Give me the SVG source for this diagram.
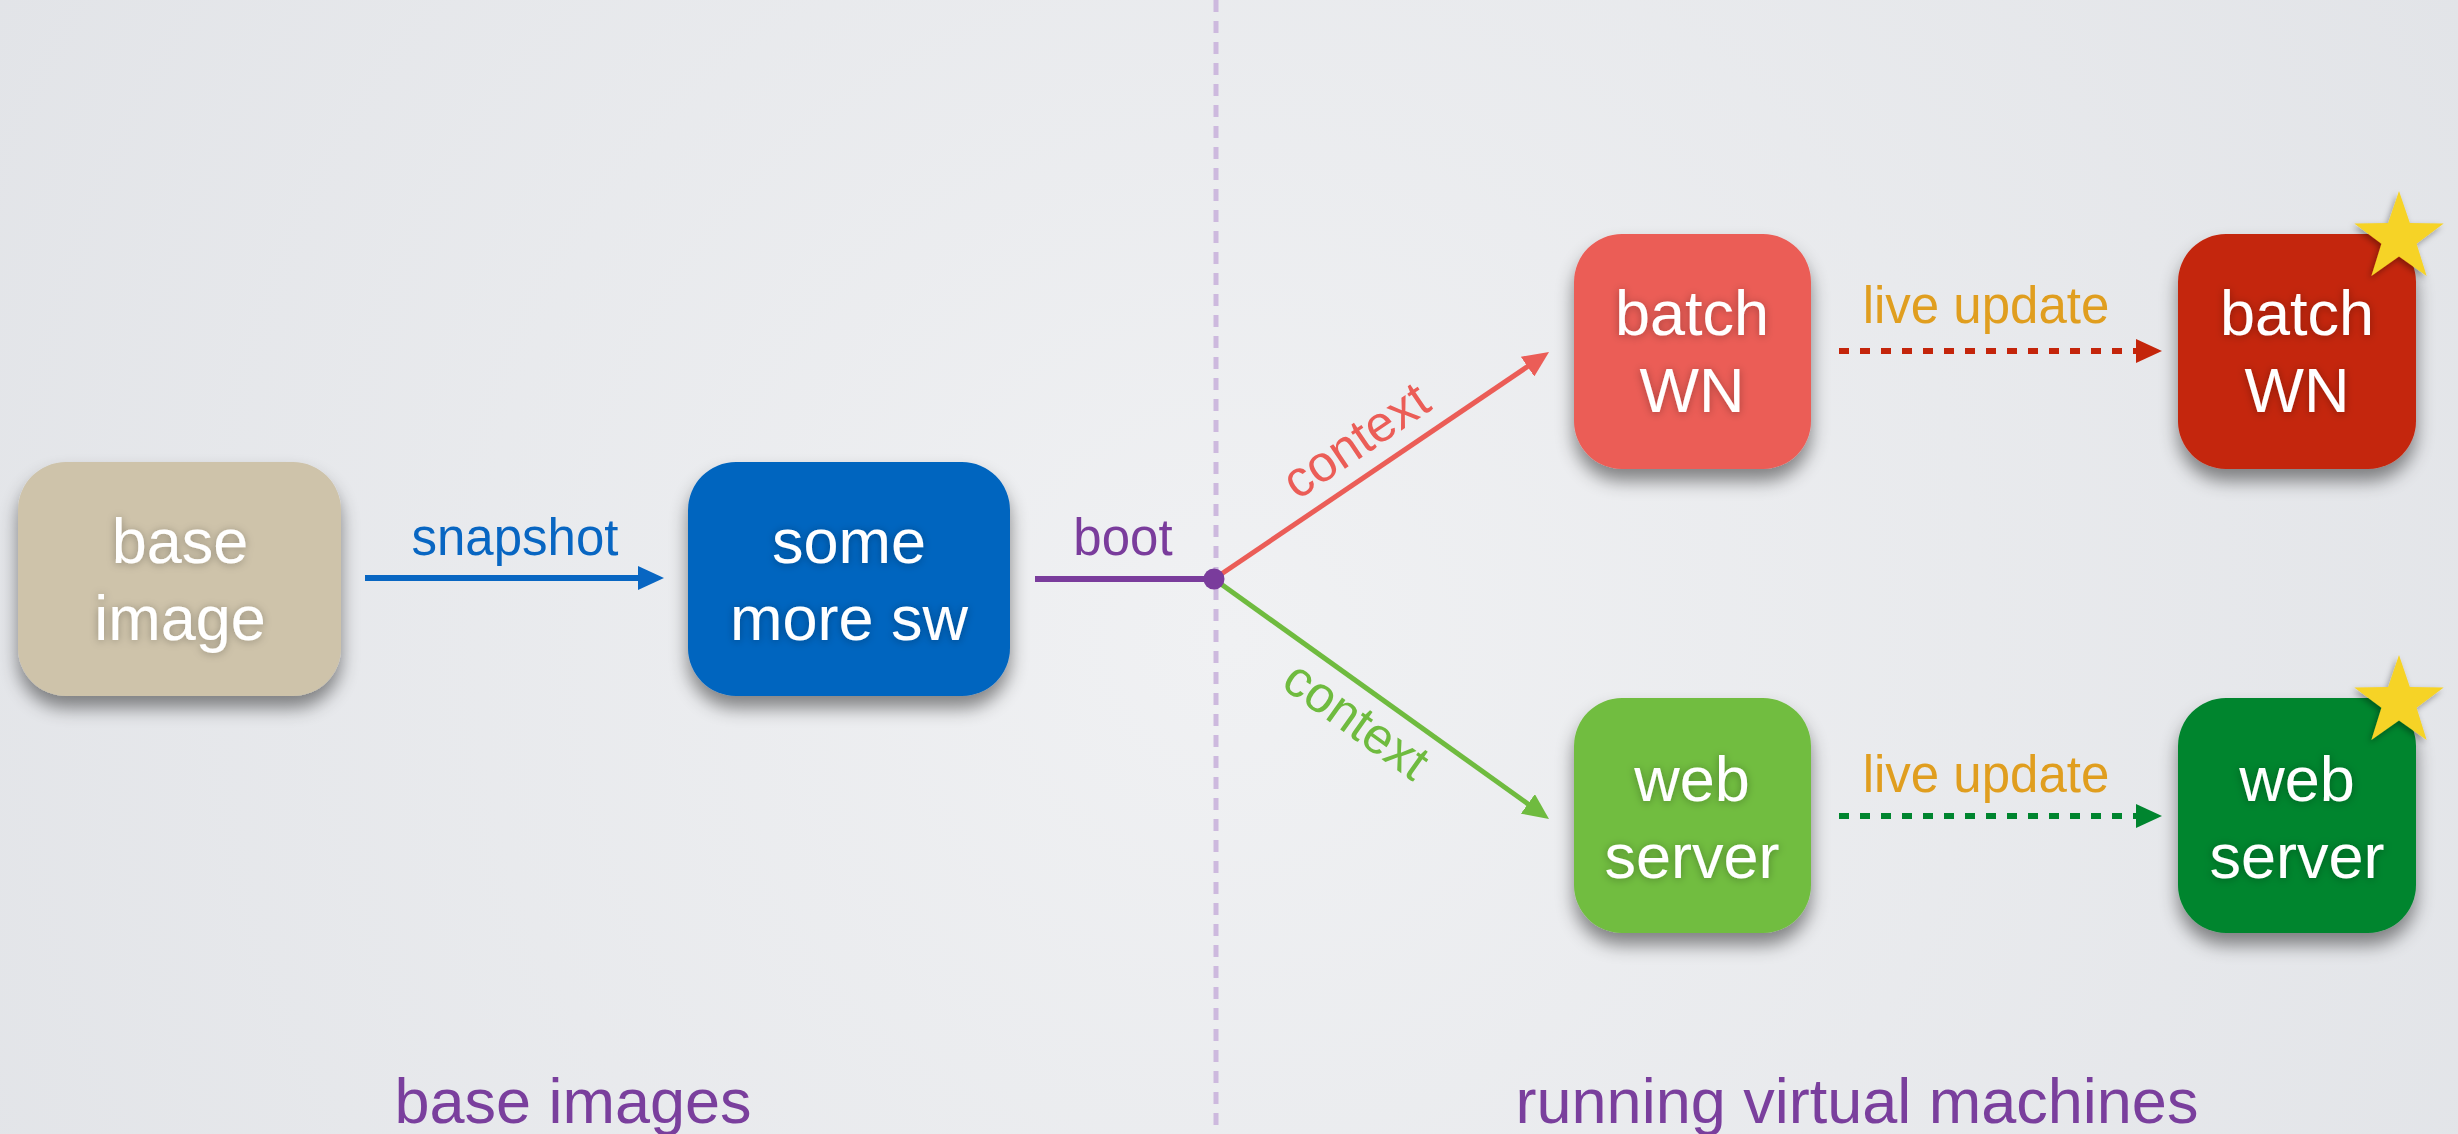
<svg xmlns="http://www.w3.org/2000/svg" width="2458" height="1134" viewBox="0 0 2458 1134">
  <defs>
    <radialGradient id="bg" cx="1230" cy="640" r="1500" gradientUnits="userSpaceOnUse">
      <stop offset="0" stop-color="#f0f1f3"/>
      <stop offset="1" stop-color="#e1e3e7"/>
    </radialGradient>
    <filter id="boxShadow" x="-20%" y="-20%" width="140%" height="150%">
      <feDropShadow dx="0" dy="12" stdDeviation="9" flood-color="#000" flood-opacity="0.45"/>
    </filter>
    <filter id="textShadow" x="-20%" y="-30%" width="140%" height="160%">
      <feDropShadow dx="0" dy="1" stdDeviation="4" flood-color="#000" flood-opacity="0.3"/>
    </filter>
    <filter id="starShadow" x="-30%" y="-30%" width="160%" height="160%">
      <feDropShadow dx="-2" dy="3" stdDeviation="3" flood-color="#000" flood-opacity="0.35"/>
    </filter>
    <marker id="arrowBlue" markerUnits="userSpaceOnUse" markerWidth="26" markerHeight="24" viewBox="0 0 26 24" refX="10" refY="12" orient="auto">
      <path d="M0,0 L26,12 L0,24 z" fill="#0866c2"/>
    </marker>
    <marker id="arrowRed" markerUnits="userSpaceOnUse" markerWidth="26" markerHeight="24" viewBox="0 0 26 24" refX="10" refY="12" orient="auto">
      <path d="M0,0 L26,12 L0,24 z" fill="#eb5d57"/>
    </marker>
    <marker id="arrowGreen" markerUnits="userSpaceOnUse" markerWidth="26" markerHeight="24" viewBox="0 0 26 24" refX="10" refY="12" orient="auto">
      <path d="M0,0 L26,12 L0,24 z" fill="#6fbb3f"/>
    </marker>
    <marker id="arrowDarkRed" markerUnits="userSpaceOnUse" markerWidth="26" markerHeight="24" viewBox="0 0 26 24" refX="10" refY="12" orient="auto">
      <path d="M0,0 L26,12 L0,24 z" fill="#c4250b"/>
    </marker>
    <marker id="arrowDarkGreen" markerUnits="userSpaceOnUse" markerWidth="26" markerHeight="24" viewBox="0 0 26 24" refX="10" refY="12" orient="auto">
      <path d="M0,0 L26,12 L0,24 z" fill="#00852f"/>
    </marker>
    <polygon id="star" points="0,-47 10.87,-14.97 44.7,-14.52 17.59,5.72 27.63,38.02 0,18.5 -27.63,38.02 -17.59,5.72 -44.7,-14.52 -10.87,-14.97" fill="#f6d327"/>
    <style>
      text { font-family: "Liberation Sans", Arial, Helvetica, sans-serif; }
      .box { filter: url(#boxShadow); }
      .node-label { fill: #ffffff; font-size: 63px; text-anchor: middle; filter: url(#textShadow); }
      .edge-label { font-size: 51px; text-anchor: middle; }
      .section { fill: #7a3f9d; font-size: 63px; text-anchor: middle; }
      .live { fill: #e09e1f; }
    </style>
  </defs>

  <!-- backdrop -->
  <rect x="0" y="0" width="2458" height="1134" fill="url(#bg)"/>

  <!-- divider between the two halves -->
  <line id="divider" x1="1216" y1="0" x2="1216" y2="1134" stroke="#cdb9de" stroke-width="5" stroke-dasharray="12 9"/>

  <!-- nodes -->
  <g id="node-base-image">
    <rect class="box" x="18" y="462" width="323" height="234" rx="48" fill="#cec3aa"/>
    <text class="node-label" x="180" y="563">base</text>
    <text class="node-label" x="180" y="640">image</text>
  </g>
  <g id="node-some-more-sw">
    <rect class="box" x="688" y="462" width="322" height="234" rx="48" fill="#0465bf"/>
    <text class="node-label" x="849" y="563">some</text>
    <text class="node-label" x="849" y="640">more sw</text>
  </g>
  <g id="node-batch-wn">
    <rect class="box" x="1574" y="234" width="237" height="235" rx="48" fill="#eb5d57"/>
    <text class="node-label" x="1692" y="335">batch</text>
    <text class="node-label" x="1692" y="412">WN</text>
  </g>
  <g id="node-batch-wn-updated">
    <rect class="box" x="2178" y="234" width="238" height="235" rx="48" fill="#c4250b"/>
    <text class="node-label" x="2297" y="335">batch</text>
    <text class="node-label" x="2297" y="412">WN</text>
    <use href="#star" transform="translate(2399 238)" filter="url(#starShadow)"/>
  </g>
  <g id="node-web-server">
    <rect class="box" x="1574" y="698" width="237" height="235" rx="48" fill="#71bd41"/>
    <text class="node-label" x="1692" y="801">web</text>
    <text class="node-label" x="1692" y="878">server</text>
  </g>
  <g id="node-web-server-updated">
    <rect class="box" x="2178" y="698" width="238" height="235" rx="48" fill="#00852f"/>
    <text class="node-label" x="2297" y="801">web</text>
    <text class="node-label" x="2297" y="878">server</text>
    <use href="#star" transform="translate(2399 702)" filter="url(#starShadow)"/>
  </g>

  <!-- connectors -->
  <g id="connectors" fill="none">
    <line x1="365" y1="578" x2="648" y2="578" stroke="#0866c2" stroke-width="6" marker-end="url(#arrowBlue)"/>
    <line x1="1035" y1="579" x2="1214" y2="579" stroke="#7a3c9c" stroke-width="6"/>
    <line x1="1214" y1="579" x2="1535.8" y2="361" stroke="#eb5d57" stroke-width="5" marker-end="url(#arrowRed)"/>
    <line x1="1214" y1="579" x2="1536" y2="809.7" stroke="#6fbb3f" stroke-width="5" marker-end="url(#arrowGreen)"/>
    <circle cx="1214" cy="579" r="10.5" fill="#7a3c9c"/>
    <line x1="1839" y1="351" x2="2146" y2="351" stroke="#c4250b" stroke-width="6" stroke-dasharray="10 11" marker-end="url(#arrowDarkRed)"/>
    <line x1="1839" y1="816" x2="2146" y2="816" stroke="#00852f" stroke-width="6" stroke-dasharray="10 11" marker-end="url(#arrowDarkGreen)"/>
  </g>

  <!-- connector labels -->
  <g id="connector-labels">
    <text class="edge-label" x="515" y="555" fill="#0866c2">snapshot</text>
    <text class="edge-label" x="1123" y="555" fill="#7a3c9c">boot</text>
    <text class="edge-label" x="0" y="0" fill="#eb5d57" text-anchor="start" transform="translate(1214 579) rotate(-34.1) translate(195 -18)">context</text>
    <text class="edge-label" x="0" y="0" fill="#6fbb3f" text-anchor="start" transform="translate(1214 579) rotate(35.6) translate(198 49)">context</text>
    <text class="edge-label live" x="1986" y="323">live update</text>
    <text class="edge-label live" x="1986" y="792">live update</text>
  </g>

  <!-- section captions -->
  <text class="section" x="573" y="1123">base images</text>
  <text class="section" x="1857" y="1123">running virtual machines</text>
</svg>
